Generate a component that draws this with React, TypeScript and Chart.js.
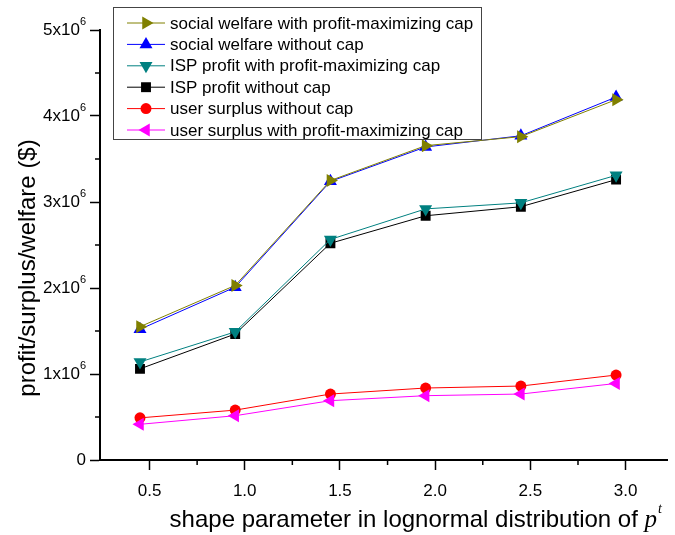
import React, { useEffect, useRef } from 'react';
import { Chart, registerables } from 'chart.js';
import { drawPoint } from 'chart.js/helpers';

Chart.register(...registerables);

// ---------- data ----------
const xValues = [0.45, 0.95, 1.45, 1.95, 2.45, 2.95];
const welfareWithCap = [1.55e6, 2.03e6, 3.25e6, 3.655e6, 3.76e6, 4.19e6];
const welfareWithoutCap = [1.52e6, 2.01e6, 3.24e6, 3.64e6, 3.77e6, 4.22e6];
const profitWithCap = [1.14e6, 1.49e6, 2.565e6, 2.92e6, 2.99e6, 3.31e6];
const profitWithoutCap = [1.06e6, 1.465e6, 2.52e6, 2.84e6, 2.945e6, 3.26e6];
const surplusWithoutCap = [0.49e6, 0.58e6, 0.767e6, 0.837e6, 0.86e6, 0.988e6];
const surplusWithCap = [0.415e6, 0.515e6, 0.69e6, 0.748e6, 0.767e6, 0.89e6];

const seriesLabels = [
  'social welfare with profit-maximizing cap',
  'social welfare without cap',
  'ISP profit with profit-maximizing cap',
  'ISP profit without cap',
  'user surplus without cap',
  'user surplus with profit-maximizing cap',
];

const xMajorTicks = [0.5, 1.0, 1.5, 2.0, 2.5, 3.0];
const xMinorTicks = [0.75, 1.25, 1.75, 2.25, 2.75];
const yMajorTicks = [0, 1e6, 2e6, 3e6, 4e6, 5e6];
const yMinorTicks = [0.5e6, 1.5e6, 2.5e6, 3.5e6, 4.5e6];

const xTitleText = 'shape parameter in lognormal distribution of ';
const xTitleVar = 'p';
const xTitleSup = 't';
const yTitleText = 'profit/surplus/welfare ($)';

const FONT = '"Liberation Sans", Arial, Helvetica, sans-serif';
const SERIF = '"Liberation Serif", "Times New Roman", serif';

const decorPlugin = {
  id: 'decor',
  afterDraw(chart: any) {
    const ctx = chart.ctx;
    const ys = chart.scales.y;
    const xs = chart.scales.x;
    const area = chart.chartArea;
    ctx.save();

    // minor ticks
    ctx.strokeStyle = '#000';
    ctx.lineWidth = 1.5;
    ctx.beginPath();
    xMinorTicks.forEach((v) => {
      const px = xs.getPixelForValue(v);
      ctx.moveTo(px, area.bottom);
      ctx.lineTo(px, area.bottom + 5);
    });
    yMinorTicks.forEach((v) => {
      const py = ys.getPixelForValue(v);
      ctx.moveTo(area.left, py);
      ctx.lineTo(area.left - 5, py);
    });
    ctx.stroke();

    // y tick labels with superscript exponent
    ctx.fillStyle = '#000';
    ctx.textBaseline = 'middle';
    yMajorTicks.forEach((v) => {
      const py = ys.getPixelForValue(v);
      const right = area.left - 14;
      if (v === 0) {
        ctx.font = `17px ${FONT}`;
        ctx.textAlign = 'right';
        ctx.fillText('0', right, py);
        return;
      }
      ctx.font = `11px ${FONT}`;
      const supW = ctx.measureText('6').width;
      ctx.font = `17px ${FONT}`;
      ctx.textAlign = 'right';
      ctx.fillText(`${v / 1e6}x10`, right - supW, py);
      ctx.font = `11px ${FONT}`;
      ctx.textAlign = 'left';
      ctx.fillText('6', right - supW, py - 8);
    });

    // y title
    ctx.save();
    ctx.translate(28, 268);
    ctx.rotate(-Math.PI / 2);
    ctx.font = `24px ${FONT}`;
    ctx.textAlign = 'center';
    ctx.textBaseline = 'middle';
    ctx.fillText(yTitleText, 0, 0);
    ctx.restore();

    // x title with italic p and superscript t
    ctx.textBaseline = 'alphabetic';
    ctx.textAlign = 'left';
    ctx.font = `24px ${FONT}`;
    const wMain = ctx.measureText(xTitleText).width;
    ctx.font = `italic 25px ${SERIF}`;
    const wVar = ctx.measureText(xTitleVar).width;
    ctx.font = `italic 14px ${SERIF}`;
    const wSup = ctx.measureText(xTitleSup).width;
    const total = wMain + wVar + wSup + 1;
    const cx = (area.left + area.right) / 2 + 32;
    const baseY = 527;
    let sx = cx - total / 2;
    ctx.font = `24px ${FONT}`;
    ctx.fillText(xTitleText, sx, baseY);
    sx += wMain;
    ctx.font = `italic 25px ${SERIF}`;
    ctx.fillText(xTitleVar, sx, baseY);
    sx += wVar + 1;
    ctx.font = `italic 14px ${SERIF}`;
    ctx.fillText(xTitleSup, sx, baseY - 14);

    // legend
    const lx = area.left + 13;
    const ly = 7;
    const lw = 368;
    const lh = 132;
    ctx.fillStyle = '#fff';
    ctx.fillRect(lx, ly, lw, lh);
    ctx.strokeStyle = '#444';
    ctx.lineWidth = 1;
    ctx.strokeRect(lx + 0.5, ly + 0.5, lw, lh);
    chart.data.datasets.forEach((ds: any, i: number) => {
      const ry = ly + 16 + i * 21.4;
      ctx.strokeStyle = ds.borderColor;
      ctx.lineWidth = 1;
      ctx.beginPath();
      ctx.moveTo(lx + 14, ry);
      ctx.lineTo(lx + 52, ry);
      ctx.stroke();
      ctx.fillStyle = ds.pointBackgroundColor;
      ctx.strokeStyle = ds.pointBackgroundColor;
      drawPoint(ctx, {
        pointStyle: ds.pointStyle,
        rotation: ds.pointRotation,
        radius: ds.pointRadius,
        borderWidth: 0,
      } as any, lx + 33, ry);
      ctx.fillStyle = '#000';
      ctx.font = `17px ${FONT}`;
      ctx.textAlign = 'left';
      ctx.textBaseline = 'middle';
      ctx.fillText(ds.label, lx + 57, ry + 1);
    });

    ctx.restore();
  },
};

function makeSeries(
  label: string,
  values: number[],
  color: string,
  pointStyle: string,
  rotation: number,
  radius: number,
  order: number
) {
  return {
    label,
    data: xValues.map((x, i) => ({ x, y: values[i] })),
    borderColor: color,
    backgroundColor: color,
    borderWidth: 1,
    pointBackgroundColor: color,
    pointBorderColor: color,
    pointBorderWidth: 0,
    pointStyle,
    pointRotation: rotation,
    pointRadius: radius,
    pointHoverRadius: radius,
    tension: 0,
    order,
  };
}

export default function App() {
  const canvasRef = useRef<HTMLCanvasElement | null>(null);

  useEffect(() => {
    if (!canvasRef.current) return;
    const chart = new Chart(canvasRef.current, {
      type: 'line',
      data: {
        datasets: [
          makeSeries(seriesLabels[0], welfareWithCap, '#808000', 'triangle', 90, 7.5, 0),
          makeSeries(seriesLabels[1], welfareWithoutCap, '#0000ff', 'triangle', 0, 7.5, 1),
          makeSeries(seriesLabels[2], profitWithCap, '#008080', 'triangle', 180, 7.5, 2),
          makeSeries(seriesLabels[3], profitWithoutCap, '#000000', 'rect', 0, 7, 3),
          makeSeries(seriesLabels[4], surplusWithoutCap, '#ff0000', 'circle', 0, 5.5, 5),
          makeSeries(seriesLabels[5], surplusWithCap, '#ff00ff', 'triangle', 270, 7.5, 4),
        ] as any,
      },
      options: {
        animation: false,
        responsive: false,
        layout: { padding: { top: 30, right: 0, left: 0, bottom: 0 } },
        plugins: {
          legend: { display: false },
          tooltip: { enabled: false },
          title: { display: false },
        },
        scales: {
          x: {
            type: 'linear',
            min: 0.24,
            max: 3.22,
            afterBuildTicks: (scale: any) => {
              scale.ticks = xMajorTicks.map((value) => ({ value }));
            },
            afterFit: (scale: any) => {
              scale.height = 75;
            },
            ticks: {
              autoSkip: false,
              maxRotation: 0,
              color: '#000',
              padding: 11,
              font: { family: FONT, size: 17 },
              callback: (v: any) => Number(v).toFixed(1),
            },
            grid: {
              drawOnChartArea: false,
              drawTicks: true,
              tickLength: 10,
              tickWidth: 1.5,
              tickColor: '#000',
              color: '#000',
            },
            border: { display: true, color: '#000', width: 2 },
          },
          y: {
            type: 'linear',
            min: 0,
            max: 5e6,
            afterBuildTicks: (scale: any) => {
              scale.ticks = yMajorTicks.map((value) => ({ value }));
            },
            afterFit: (scale: any) => {
              scale.width = 100;
            },
            ticks: {
              autoSkip: false,
              color: '#000',
              font: { family: FONT, size: 17 },
              callback: () => '',
            },
            grid: {
              drawOnChartArea: false,
              drawTicks: true,
              tickLength: 10,
              tickWidth: 1.5,
              tickColor: '#000',
              color: '#000',
            },
            border: { display: true, color: '#000', width: 2 },
          },
        },
      } as any,
      plugins: [decorPlugin],
    });
    return () => chart.destroy();
  }, []);

  return (
    <div style={{ position: 'absolute', left: 0, top: 0, width: 675, height: 535, background: '#fff' }}>
      <canvas ref={canvasRef} width={675} height={535} style={{ display: 'block' }} />
    </div>
  );
}
